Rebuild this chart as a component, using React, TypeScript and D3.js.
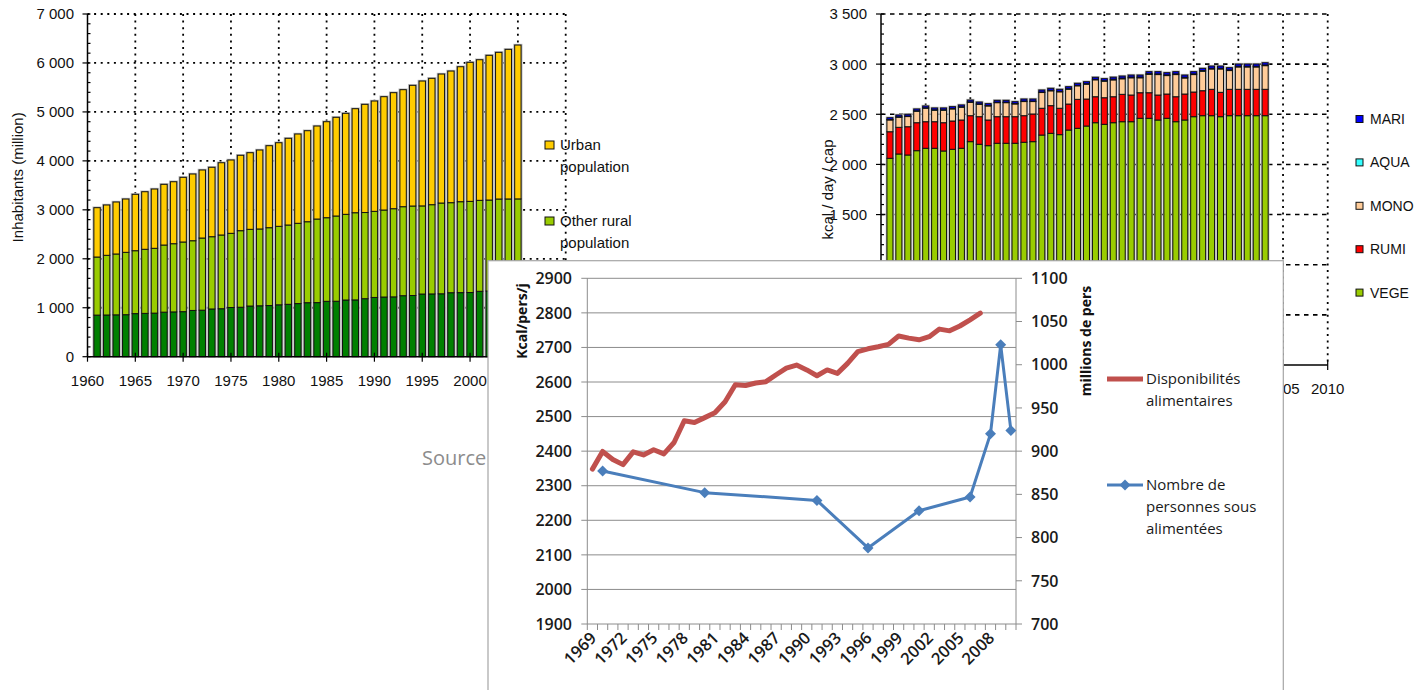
import React from "react";
import * as d3 from "d3";

// ---- world population (million), 1961-2005 ----
const popYears = d3.range(1961, 2006);
const agriculturalPop = [
  850, 852, 855, 858, 880, 885, 890, 910, 915,
  920, 945, 950, 975, 980, 1005, 1010, 1035, 1040, 1045,
  1060, 1070, 1085, 1103, 1105, 1131, 1133, 1158, 1160, 1185,
  1210, 1219, 1222, 1246, 1250, 1280, 1282, 1285, 1307, 1309,
  1311, 1336, 1342, 1350, 1356, 1362,
];
const otherRuralPop = [
  1186, 1219, 1243, 1274, 1285, 1309, 1324, 1371, 1393,
  1423, 1424, 1474, 1476, 1506, 1515, 1564, 1567, 1569, 1590,
  1603, 1620, 1640, 1654, 1707, 1708, 1741, 1750, 1781, 1760,
  1759, 1777, 1801, 1818, 1828, 1800, 1823, 1854, 1839, 1857,
  1862, 1858, 1858, 1871, 1866, 1861,
];
const urbanPop = [
  1008, 1028, 1062, 1089, 1152, 1176, 1211, 1240, 1266,
  1321, 1363, 1390, 1418, 1476, 1498, 1540, 1565, 1613, 1675,
  1708, 1771, 1824, 1859, 1900, 1961, 2016, 2063, 2125, 2210,
  2254, 2315, 2370, 2390, 2465, 2551, 2581, 2635, 2689, 2757,
  2840, 2872, 2956, 2996, 3056, 3143,
];

// ---- diet (kcal / day / cap), 1961-2003 ----
const dietYears = d3.range(1961, 2004);
const vege = [
  2061, 2104, 2094, 2137, 2161, 2161, 2134, 2151, 2161,
  2227, 2201, 2187, 2211, 2211, 2211, 2221, 2227, 2293, 2310,
  2297, 2343, 2360, 2383, 2416, 2400, 2416, 2426, 2426, 2460,
  2460, 2443, 2460, 2426, 2443, 2476, 2486, 2486, 2476, 2486,
  2486, 2486, 2486, 2486,
];
const rumi = [
  265, 266, 282, 279, 265, 265, 282, 282, 282,
  259, 275, 256, 265, 265, 265, 265, 276, 267, 276,
  263, 259, 289, 269, 259, 265, 259, 273, 266, 255,
  255, 249, 242, 249, 259, 246, 249, 263, 243, 263,
  263, 263, 263, 263,
];
const mono = [
  118, 101, 102, 115, 135, 115, 125, 121, 128,
  134, 123, 140, 140, 140, 127, 141, 124, 157, 148,
  164, 148, 135, 148, 169, 165, 168, 155, 172, 149,
  183, 204, 184, 221, 160, 174, 194, 203, 233, 187,
  223, 223, 223, 236,
];
const aqua = [
  4, 4, 4, 4, 4, 4, 4, 4, 4,
  4, 5, 5, 5, 5, 5, 5, 5, 5, 5,
  5, 5, 5, 5, 5, 5, 7, 7, 7, 7,
  7, 7, 7, 7, 7, 7, 7, 7, 7, 7,
  7, 7, 7, 7,
];
const mari = [
  18, 18, 18, 18, 18, 18, 18, 18, 18,
  18, 18, 18, 18, 18, 18, 20, 20, 20, 20,
  20, 20, 20, 20, 20, 20, 20, 20, 20, 20,
  20, 22, 22, 22, 22, 22, 22, 22, 22, 22,
  22, 22, 22, 22,
];

// ---- inset: food supply vs undernourished ----
const foodYears = d3.range(1969, 2011);
const foodSupply = [
  2348, 2399, 2376, 2361, 2398, 2389, 2404, 2392, 2425, 2488,
  2483, 2497, 2511, 2543, 2592, 2590, 2597, 2601, 2621, 2640,
  2649, 2635, 2618, 2635, 2625, 2654, 2688, 2696, 2702, 2709,
  2733, 2727, 2722, 2731, 2753, 2748, 2762, 2780, 2799,
];
const undernourishedYears = [1970, 1980, 1991, 1996, 2001, 2006, 2008, 2009, 2010];
const undernourished = [877, 852, 843, 788, 831, 847, 920, 1023, 924];

const fmt = (v: number) => d3.format(",")(v).replace(/,/g, " ");
const SANS = "'Liberation Sans', Arial, sans-serif";
const OPEN = "'Open Sans', 'Noto Sans', sans-serif";

// inset box, drawn over the two upper charts
const INSET = { x: 488, y: 260.7, r: 1283.3 };

function PopulationChart() {
  const x = d3.scaleLinear().domain([1960, 2010]).range([87.5, 565.7]);
  const y = d3.scaleLinear().domain([0, 7000]).range([356.7, 14]);
  const rows = popYears.map((yr, i) => ({
    year: yr,
    agri: agriculturalPop[i],
    other: otherRuralPop[i],
    urban: urbanPop[i],
  }));
  const series = d3.stack<any>().keys(["agri", "other", "urban"])(rows);
  const colors = ["#008000", "#99cc00", "#ffcc00"];
  const bw = 6.4;
  const [x0, x1] = x.range();
  const [y0, y1] = y.range();

  return (
    <g fontFamily={SANS}>
      {/* grid */}
      {d3.range(1000, 7001, 1000).map((v) => (
        <line key={"h" + v} x1={x0} x2={x1} y1={y(v)} y2={y(v)} stroke="#000" strokeWidth={1.8} strokeDasharray="2 4.6" />
      ))}
      {d3.range(1965, 2011, 5).map((v) => (
        <line key={"v" + v} x1={x(v)} x2={x(v)} y1={y1} y2={y0} stroke="#000" strokeWidth={1.8} strokeDasharray="2 4.6" />
      ))}
      {/* bars */}
      {rows.map((r, i) => (
        <rect key={"bg" + i} x={x(r.year) - bw / 2 - 1.4} width={bw + 2.8}
          y={y(series[2][i][1]) - 1.2} height={y(0) - y(series[2][i][1]) + 1.2} fill="#b8b8b8" />
      ))}
      {series.map((s, k) => (
        <g key={k}>
          {s.map((d: any, i: number) => (
            <rect key={i} x={x(d.data.year) - bw / 2} width={bw} y={y(d[1])} height={y(d[0]) - y(d[1])}
              fill={colors[k]} stroke="#111" strokeWidth={1} />
          ))}
        </g>
      ))}
      {/* axes */}
      <line x1={x0} x2={x0} y1={y1} y2={y0} stroke="#000" strokeWidth={1.5} />
      <line x1={x0} x2={x1} y1={y0} y2={y0} stroke="#000" strokeWidth={1.5} />
      {d3.range(0, 7001, 200).map((v) => (
        <line key={"mt" + v} x1={v % 1000 === 0 ? x0 - 5 : x0} x2={x0 + 3} y1={y(v)} y2={y(v)} stroke="#000" strokeWidth={1.2} />
      ))}
      {d3.range(0, 7001, 1000).map((v) => (
        <text key={"yl" + v} x={74} y={y(v)} dy="0.36em" textAnchor="end" fontSize={15} fill="#111">{fmt(v)}</text>
      ))}
      {d3.range(1960, 2011, 5).map((v) => (
        <line key={"xt" + v} x1={x(v)} x2={x(v)} y1={y0 - 4} y2={y0 + 5} stroke="#000" strokeWidth={1.2} />
      ))}
      {/* labels under the inset are hidden, only the visible ones are written */}
      {d3.range(1960, 2011, 5).filter((v) => x(v) < INSET.x).map((v) => (
        <text key={"xl" + v} x={x(v)} y={386} textAnchor="middle" fontSize={15} fill="#111">{v}</text>
      ))}
      <text transform={`translate(23,${(y0 + y1) / 2 - 8}) rotate(-90)`} textAnchor="middle" fontSize={15} fill="#111">
        Inhabitants (million)
      </text>
      {/* legend (third entry sits under the inset) */}
      {[
        { c: colors[2], lines: ["Urban", "population"], cy: 145 },
        { c: colors[1], lines: ["Other rural", "population"], cy: 221 },
      ].map((l, i) => (
        <g key={"lg" + i}>
          <rect x={545} y={l.cy - 4} width={9} height={8} fill={l.c} stroke="#111" strokeWidth={1} />
          {l.lines.map((t, j) => (
            <text key={j} x={560} y={l.cy + 5 + j * 21.5} fontSize={15} fill="#111">{t}</text>
          ))}
        </g>
      ))}
    </g>
  );
}

function DietChart() {
  const x = d3.scaleLinear().domain([1960, 2010]).range([881, 1327.7]);
  const y = d3.scaleLinear().domain([0, 3500]).range([365, 14]);
  const rows = dietYears.map((yr, i) => ({
    year: yr, VEGE: vege[i], RUMI: rumi[i], MONO: mono[i], AQUA: aqua[i], MARI: mari[i],
  }));
  const keys = ["VEGE", "RUMI", "MONO", "AQUA", "MARI"];
  const colors: Record<string, string> = {
    VEGE: "#99cc00", RUMI: "#ff0000", MONO: "#ffcc99", AQUA: "#33ffff", MARI: "#0000ff",
  };
  const series = d3.stack<any>().keys(keys)(rows);
  const bw = 6;
  const [x0, x1] = x.range();
  const [y0, y1] = y.range();
  const top = series[series.length - 1];

  return (
    <g fontFamily={SANS}>
      {d3.range(500, 3501, 500).map((v) => (
        <line key={"h" + v} x1={x0} x2={x1} y1={y(v)} y2={y(v)} stroke="#000" strokeWidth={1.6} strokeDasharray="4.5 4.5" />
      ))}
      {d3.range(1965, 2011, 5).map((v) => (
        <line key={"v" + v} x1={x(v)} x2={x(v)} y1={y1} y2={y0} stroke="#000" strokeWidth={1.8} strokeDasharray="2 4.4" />
      ))}
      {rows.map((r, i) => (
        <rect key={"bg" + i} x={x(r.year) - bw / 2 - 1.2} width={bw + 2.4}
          y={y(top[i][1]) - 1.2} height={y(0) - y(top[i][1]) + 1.2} fill="#b8b8b8" />
      ))}
      {series.map((s, k) => (
        <g key={k}>
          {s.map((d: any, i: number) => (
            <rect key={i} x={x(d.data.year) - bw / 2} width={bw} y={y(d[1])} height={Math.max(0.5, y(d[0]) - y(d[1]))}
              fill={colors[keys[k]]} stroke="#111" strokeWidth={1} />
          ))}
        </g>
      ))}
      <line x1={x0} x2={x0} y1={y1} y2={y0} stroke="#000" strokeWidth={1.5} />
      <line x1={x0} x2={x1} y1={y0} y2={y0} stroke="#000" strokeWidth={1.5} />
      {d3.range(0, 3501, 100).map((v) => (
        <line key={"mt" + v} x1={v % 500 === 0 ? x0 - 5 : x0} x2={x0 + 3} y1={y(v)} y2={y(v)} stroke="#000" strokeWidth={1.2} />
      ))}
      {d3.range(0, 3501, 500).filter((v) => y(v) + 8 < INSET.y).map((v) => (
        <text key={"yl" + v} x={867} y={y(v)} dy="0.36em" textAnchor="end" fontSize={15} fill="#111">{fmt(v)}</text>
      ))}
      {d3.range(1960, 2011, 5).map((v) => (
        <line key={"xt" + v} x1={x(v)} x2={x(v)} y1={y0 - 4} y2={y0 + 5} stroke="#000" strokeWidth={1.2} />
      ))}
      {d3.range(1960, 2011, 5).filter((v) => x(v) + 18 > INSET.r).map((v) => (
        <text key={"xl" + v} x={x(v)} y={394} textAnchor="middle" fontSize={15} fill="#111">{v}</text>
      ))}
      <text transform={`translate(833,${(y0 + y1) / 2}) rotate(-90)`} textAnchor="middle" fontSize={15} fill="#111">
        kcal / day / cap
      </text>
      {keys.slice().reverse().map((k, i) => (
        <g key={k}>
          <rect x={1356} y={119 + i * 43.4 - 3.5} width={7} height={7} fill={colors[k]} stroke="#111" strokeWidth={1} />
          <text x={1370} y={119 + i * 43.4 + 5} fontSize={14} fill="#111">{k}</text>
        </g>
      ))}
    </g>
  );
}

function InsetChart() {
  const xb = d3.scaleBand<number>().domain(foodYears).range([587.3, 1016]).padding(0);
  const bw = xb.bandwidth();
  const cx = (yr: number) => (xb(yr) as number) + bw / 2;
  const yL = d3.scaleLinear().domain([1900, 2900]).range([624, 278.3]);
  const yR = d3.scaleLinear().domain([700, 1100]).range([624, 278.3]);
  const [px0, px1] = xb.range();

  const redLine = d3.line<number>()
    .x((_, i) => cx(foodYears[i]))
    .y((d) => yL(d));
  const blueLine = d3.line<number>()
    .x((_, i) => cx(undernourishedYears[i]))
    .y((d) => yR(d));
  const diamond = "M0,-5.5L5.5,0L0,5.5L-5.5,0Z";
  const grid = "#8c8c8c";

  return (
    <g fontFamily={OPEN}>
      <rect x={INSET.x} y={INSET.y} width={INSET.r - INSET.x} height={440} fill="#fff" stroke="#a6a6a6" strokeWidth={1.2} />
      {d3.range(1900, 2901, 100).map((v) => (
        <g key={"g" + v}>
          <line x1={px0 - 6} x2={px1} y1={yL(v)} y2={yL(v)} stroke={grid} strokeWidth={1} />
          <text x={572} y={yL(v)} dy="0.36em" textAnchor="end" fontSize={16} fill="#1a1a1a" fontWeight={600}>{v}</text>
        </g>
      ))}
      <line x1={px0} x2={px0} y1={yL(2900)} y2={yL(1900)} stroke={grid} strokeWidth={1} />
      <line x1={px1} x2={px1} y1={yR(1100)} y2={yR(700)} stroke={grid} strokeWidth={1} />
      {d3.range(700, 1101, 50).map((v) => (
        <g key={"r" + v}>
          <line x1={px1} x2={px1 + 6} y1={yR(v)} y2={yR(v)} stroke={grid} strokeWidth={1} />
          <text x={1031} y={yR(v)} dy="0.36em" fontSize={16} fill="#1a1a1a" fontWeight={600}>{v}</text>
        </g>
      ))}
      {d3.range(0, foodYears.length + 1).map((i) => (
        <line key={"xt" + i} x1={px0 + i * bw} x2={px0 + i * bw} y1={624} y2={630} stroke={grid} strokeWidth={1} />
      ))}
      {foodYears.filter((_, i) => i % 3 === 0).map((yr) => (
        <text key={"xl" + yr} transform={`translate(${cx(yr) + 5},${639}) rotate(-45)`} textAnchor="end"
          fontSize={16.5} fill="#1a1a1a" fontWeight={600}>{yr}</text>
      ))}
      <text transform="translate(527,321) rotate(-90)" textAnchor="middle" fontSize={14} fontWeight={700} fill="#111">Kcal/pers/j</text>
      <text transform="translate(1091,341) rotate(-90)" textAnchor="middle" fontSize={14} fontWeight={700} fill="#111">millions de pers</text>
      <path d={redLine(foodSupply) as string} fill="none" stroke="#c0504d" strokeWidth={5} strokeLinejoin="round" strokeLinecap="round" />
      <path d={blueLine(undernourished) as string} fill="none" stroke="#4a7ebb" strokeWidth={3} strokeLinejoin="round" />
      {undernourished.map((v, i) => (
        <path key={"m" + i} d={diamond} transform={`translate(${cx(undernourishedYears[i])},${yR(v)})`} fill="#4a7ebb" />
      ))}
      {/* legend */}
      <line x1={1107} x2={1143} y1={379} y2={379} stroke="#c0504d" strokeWidth={5} />
      <text x={1146} y={384} fontSize={15} fill="#1a1a1a">Disponibilités</text>
      <text x={1146} y={406} fontSize={15} fill="#1a1a1a">alimentaires</text>
      <line x1={1107} x2={1143} y1={485} y2={485} stroke="#4a7ebb" strokeWidth={3} />
      <path d={diamond} transform="translate(1125,485)" fill="#4a7ebb" />
      <text x={1146} y={490} fontSize={15} fill="#1a1a1a">Nombre de</text>
      <text x={1146} y={512} fontSize={15} fill="#1a1a1a">personnes sous</text>
      <text x={1146} y={534} fontSize={15} fill="#1a1a1a">alimentées</text>
    </g>
  );
}

export default function App() {
  return (
    <svg width={1420} height={690} style={{ position: "absolute", left: 0, top: 0, background: "#fff" }}>
      <rect width={1420} height={690} fill="#fff" />
      <PopulationChart />
      <DietChart />
      <text x={422} y={465} fontSize={20} fill="#8c8c8c" fontFamily={OPEN}>Source</text>
      <InsetChart />
    </svg>
  );
}
